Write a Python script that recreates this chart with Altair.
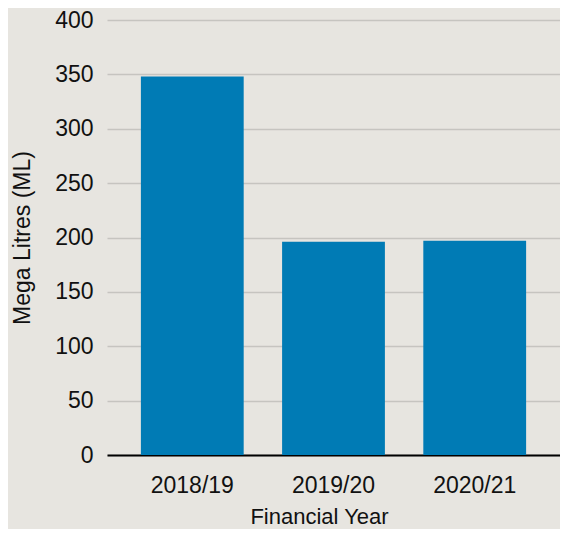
import altair as alt
import pandas as pd

years = ["2018/19", "2019/20", "2020/21"]
values = [348, 196, 197]

df = pd.DataFrame({"year": years, "ml": values})

FONT = "Liberation Sans"

chart = alt.Chart(df).mark_bar(color="#007bb5").encode(
    x=alt.X("year:N", sort=years, title="Financial Year",
            scale=alt.Scale(paddingInner=0.272, paddingOuter=0.24),
            axis=alt.Axis(labelAngle=0, ticks=False, domainColor="#000000", domainWidth=2,
                          labelPadding=19, titlePadding=9, titleX=212,
                          labelFontSize=23, titleFontSize=22)),
    y=alt.Y("ml:Q", title="Mega Litres (ML)",
            scale=alt.Scale(domain=[0, 400]),
            axis=alt.Axis(values=[0, 50, 100, 150, 200, 250, 300, 350, 400], ticks=False, domain=False,
                          gridColor="#c6c4c0", gridWidth=1.5, labelPadding=14, titlePadding=20,
                          labelFontSize=23, titleFontSize=23)),
).properties(
    width=453, height=435,
    autosize=alt.AutoSizeParams(type="none"),
    padding={"left": 99, "top": 12, "right": 0, "bottom": 74},
    background="#e7e5e0",
).configure_view(stroke=None).configure_axis(
    labelFont=FONT, titleFont=FONT, labelColor="#111111", titleColor="#111111",
    titleFontWeight="normal"
)

chart.save("out.html", embed_options={"renderer": "svg", "actions": False})
